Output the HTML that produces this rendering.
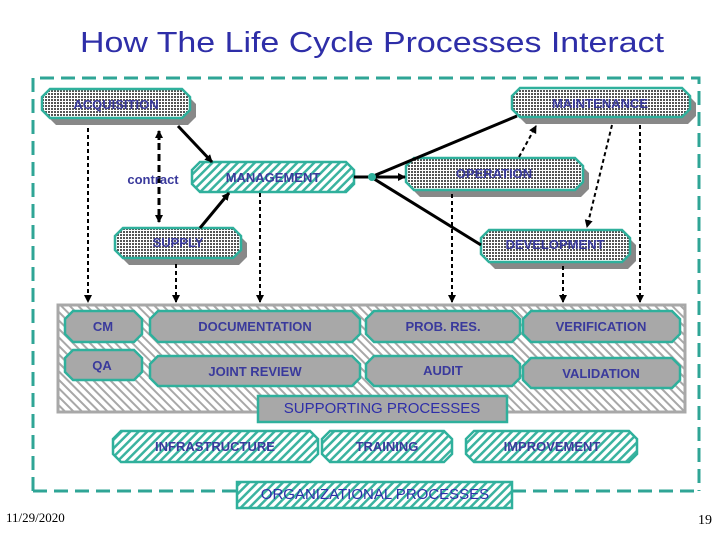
<!DOCTYPE html>
<html><head><meta charset="utf-8"><style>
html,body{margin:0;padding:0;background:#fff;width:720px;height:540px;overflow:hidden}
svg{display:block}
text{font-family:"Liberation Sans",sans-serif;font-weight:bold;fill:#3a3a9c}
</style></head><body>
<svg width="720" height="540" viewBox="0 0 720 540" xmlns="http://www.w3.org/2000/svg">
<defs>
<pattern id="dots" width="3" height="3" patternUnits="userSpaceOnUse"><rect width="3" height="3" fill="#fff"/><rect width="2" height="2" fill="#555"/></pattern>
<pattern id="hatch" width="6" height="6" patternUnits="userSpaceOnUse" patternTransform="rotate(45)"><rect width="6" height="6" fill="#fff"/><rect width="2.5" height="6" fill="#3bb3a0"/></pattern>
<pattern id="ghatch" width="6" height="6" patternUnits="userSpaceOnUse" patternTransform="rotate(-45)"><rect width="6" height="6" fill="#fff"/><rect width="2" height="6" fill="#a8a8a8"/></pattern>
<marker id="ah" markerWidth="8" markerHeight="8" refX="7" refY="4" orient="auto" markerUnits="userSpaceOnUse"><path d="M0,0 L8,4 L0,8 z" fill="#000"/></marker>
</defs>
<text x="80" y="52" font-size="29" textLength="584" lengthAdjust="spacingAndGlyphs" style="font-weight:normal;fill:#2e2ea8">How The Life Cycle Processes Interact</text>
<g fill="none" stroke="#2fa596" stroke-width="3" stroke-dasharray="14,7">
<path d="M33,491 L33,78 L699,78 L699,491"/>
<path d="M33,491 L237,491"/><path d="M512,491 L699,491"/>
</g>
<rect x="58" y="305" width="627" height="107" fill="url(#ghatch)" stroke="#a8a8a8" stroke-width="3"/>
<g fill="#888">
<polygon transform="translate(6,7)" points="50,89 182,89 190,97 190,110 182,118 50,118 42,110 42,97"/>
<polygon transform="translate(6,7)" points="520,88 682,88 690,96 690,109 682,117 520,117 512,109 512,96"/>
<polygon transform="translate(6,7)" points="414,158 575,158 583,166 583,182 575,190 414,190 406,182 406,166"/>
<polygon transform="translate(6,7)" points="123,228 233,228 241,236 241,250 233,258 123,258 115,250 115,236"/>
<polygon transform="translate(6,7)" points="489,230 622,230 630,238 630,254 622,262 489,262 481,254 481,238"/>
</g>
<g stroke="#2fb09c" stroke-width="2.5">
<polygon fill="url(#dots)" points="50,89 182,89 190,97 190,110 182,118 50,118 42,110 42,97"/>
<polygon fill="url(#dots)" points="520,88 682,88 690,96 690,109 682,117 520,117 512,109 512,96"/>
<polygon fill="url(#hatch)" points="200,162 346,162 354,170 354,184 346,192 200,192 192,184 192,170"/>
<polygon fill="url(#dots)" points="414,158 575,158 583,166 583,182 575,190 414,190 406,182 406,166"/>
<polygon fill="url(#dots)" points="123,228 233,228 241,236 241,250 233,258 123,258 115,250 115,236"/>
<polygon fill="url(#dots)" points="489,230 622,230 630,238 630,254 622,262 489,262 481,254 481,238"/>
<g fill="#a8a8a8">
<polygon points="73,311 134,311 142,319 142,334 134,342 73,342 65,334 65,319"/>
<polygon points="73,350 134,350 142,358 142,372 134,380 73,380 65,372 65,358"/>
<polygon points="158,311 352,311 360,319 360,334 352,342 158,342 150,334 150,319"/>
<polygon points="158,356 352,356 360,364 360,378 352,386 158,386 150,378 150,364"/>
<polygon points="374,311 512,311 520,319 520,334 512,342 374,342 366,334 366,319"/>
<polygon points="374,356 512,356 520,364 520,378 512,386 374,386 366,378 366,364"/>
<polygon points="531,311 672,311 680,319 680,334 672,342 531,342 523,334 523,319"/>
<polygon points="531,358 672,358 680,366 680,380 672,388 531,388 523,380 523,366"/>
<rect x="258" y="396" width="249" height="26"/>
</g>
<polygon fill="url(#hatch)" points="121,431 310,431 318,439 318,454 310,462 121,462 113,454 113,439"/>
<polygon fill="url(#hatch)" points="330,431 444,431 452,439 452,454 444,462 330,462 322,454 322,439"/>
<polygon fill="url(#hatch)" points="474,431 629,431 637,439 637,454 629,462 474,462 466,454 466,439"/>
<rect x="237" y="482" width="275" height="26" fill="url(#hatch)"/>
</g>
<g stroke="#000" stroke-width="3" fill="none">
<line x1="178" y1="126" x2="212" y2="162" marker-end="url(#ah)"/>
<line x1="200" y1="228" x2="229" y2="193" marker-end="url(#ah)"/>
<line x1="354" y1="177" x2="371" y2="177"/>
<line x1="371" y1="177" x2="517" y2="116"/>
<line x1="371" y1="177" x2="405" y2="177" marker-end="url(#ah)"/>
<line x1="371" y1="177" x2="481" y2="245"/>
</g>
<circle cx="372" cy="177" r="4" fill="#2fb09c"/>
<g stroke="#000" stroke-width="2" stroke-dasharray="4,3" fill="none">
<line x1="159" y1="132" x2="159" y2="222" stroke-width="3" stroke-dasharray="7,4" marker-end="url(#ah)"/>
<line x1="159" y1="140" x2="159" y2="131" stroke-width="3" stroke-dasharray="none" marker-end="url(#ah)"/>
<line x1="519" y1="157" x2="536" y2="126" marker-end="url(#ah)"/>
<line x1="612" y1="125" x2="587" y2="227" marker-end="url(#ah)"/>
<line x1="640" y1="125" x2="640" y2="302" marker-end="url(#ah)"/>
<line x1="563" y1="266" x2="563" y2="302" marker-end="url(#ah)"/>
<line x1="452" y1="194" x2="452" y2="302" marker-end="url(#ah)"/>
<line x1="260" y1="193" x2="260" y2="302" marker-end="url(#ah)"/>
<line x1="176" y1="264" x2="176" y2="302" marker-end="url(#ah)"/>
<line x1="88" y1="128" x2="88" y2="302" marker-end="url(#ah)"/>
</g>
<g font-size="13" text-anchor="middle">
<text x="116" y="109">ACQUISITION</text>
<text x="600" y="108">MAINTENANCE</text>
<text x="273" y="182">MANAGEMENT</text>
<text x="494" y="178">OPERATION</text>
<text x="178" y="247">SUPPLY</text>
<text x="555" y="249">DEVELOPMENT</text>
<text x="153" y="184">contract</text>
<text x="103" y="331">CM</text>
<text x="102" y="370">QA</text>
<text x="255" y="331">DOCUMENTATION</text>
<text x="255" y="376">JOINT REVIEW</text>
<text x="443" y="331">PROB. RES.</text>
<text x="443" y="375">AUDIT</text>
<text x="601" y="331">VERIFICATION</text>
<text x="601" y="378">VALIDATION</text>
<text x="215" y="451">INFRASTRUCTURE</text>
<text x="387" y="451">TRAINING</text>
<text x="552" y="451">IMPROVEMENT</text>
</g>
<text x="382" y="413" font-size="15" text-anchor="middle" style="font-weight:normal;fill:#2e2ea8">SUPPORTING PROCESSES</text>
<text x="375" y="499" font-size="15" text-anchor="middle" style="font-weight:normal;fill:#2e2ea8">ORGANIZATIONAL PROCESSES</text>
<text x="6" y="522" font-size="13" style="font-family:'Liberation Serif',serif;font-weight:normal;fill:#000">11/29/2020</text>
<text x="712" y="524" font-size="14" text-anchor="end" style="font-family:'Liberation Serif',serif;font-weight:normal;fill:#000">19</text>
</svg>
</body></html>
